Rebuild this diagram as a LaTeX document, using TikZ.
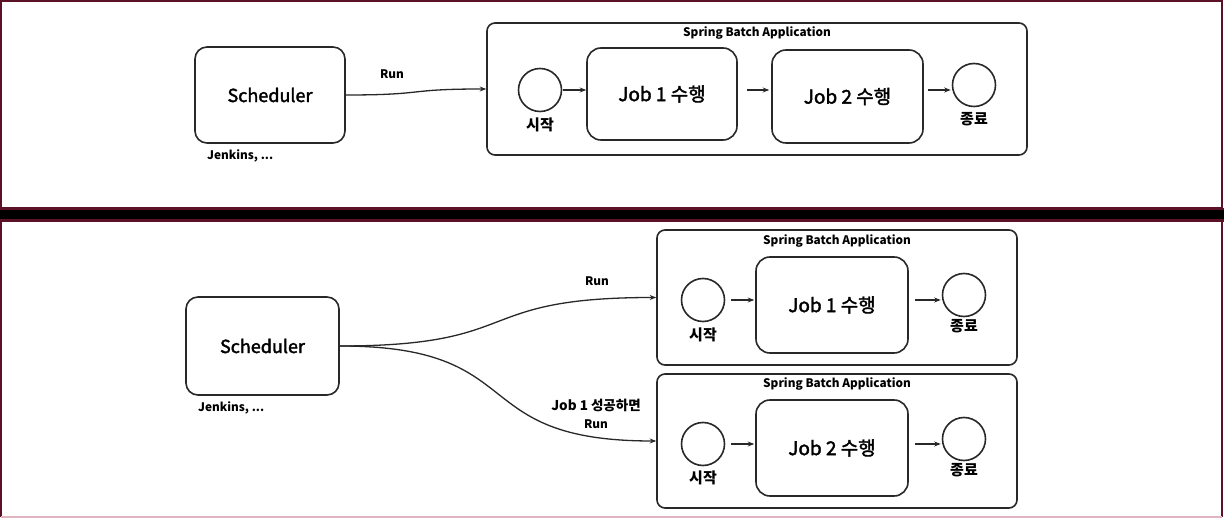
\documentclass[tikz,border=0pt]{standalone}
\usepackage{fontspec}
\setmainfont{Noto Sans CJK KR}
\newfontfamily\medfont[FakeBold=2]{Noto Sans CJK KR}
\usetikzlibrary{arrows.meta}
\definecolor{framered}{RGB}{92,18,38}
\definecolor{framepink}{RGB}{224,180,192}
\definecolor{boxgray}{RGB}{40,40,40}
\tikzset{
  rbox/.style={draw=boxgray,line width=1.6pt,rounded corners=12pt,inner sep=0pt},
  startend/.style={draw=boxgray,line width=1.6pt,circle,minimum size=43pt,inner sep=0pt},
  lbl/.style={inner sep=0pt,font=\fontsize{11.8}{18}\selectfont\bfseries},
  klbl/.style={inner sep=0pt,font=\fontsize{15}{17}\selectfont\bfseries},
  big/.style={font=\fontsize{18}{21}\selectfont\medfont},
  jobtext/.style={font=\fontsize{19}{22}\selectfont\medfont},
  flow/.style={-{Stealth[length=6.5pt,width=5pt]},line width=1.3pt,draw=boxgray},
}

\begin{document}
\begin{tikzpicture}[x=1pt,y=1pt,yscale=-1,xscale=1]
\useasboundingbox (0,0) rectangle (1224,518);

%Shape: panels
\fill[white] (0,0) rectangle (1224,518);
\draw[framered,line width=2pt] (1,1) rectangle (1222,208);
\fill[framered] (0,208) rectangle (1224,222);
\fill[black] (0,210.5) rectangle (1224,219.5);
\draw[framered,line width=2pt] (1,517) -- (1,221) -- (1222,221) -- (1222,517);
\draw[framepink,line width=1.5pt] (1,517) -- (1222,517);

%%% upper panel: one application runs both jobs
% Scheduler
\node[rbox,minimum width=150pt,minimum height=96pt,big] (sched1) at (270,95) {Scheduler};
\node[lbl,anchor=west] (jenk1) at (207,156) {Jenkins, ...};
\node[lbl] (run1) at (392,74) {Run};
% Application
\node[rbox,rounded corners=8pt,minimum width=540pt,minimum height=132pt] (sba1) at (757,89) {};
\node[lbl] (title1) at (757,33) {Spring Batch Application};
\node[startend] (start1) at (540,90) {};
\node[klbl] (startlbl1) at (540,125) {시작};
\node[rbox,rounded corners=14pt,minimum width=150pt,minimum height=92pt,jobtext] (job1) at (662,94) {Job 1 수행};
\node[rbox,rounded corners=14pt,minimum width=151pt,minimum height=93pt,jobtext] (job2) at (847.5,96.5) {Job 2 수행};
\node[startend] (end1) at (974,85) {};
\node[klbl] (endlbl1) at (974,119) {종료};
% Connectors
\draw[flow] (sched1.east) to[out=0,in=180,looseness=1.5] (sba1.west);
\draw[flow,shorten <=1pt] (start1.east) -- (start1 -| job1.west);
\draw[flow,shorten <=9pt,shorten >=2pt] (start1 -| job1.east) -- (start1 -| job2.west);
\draw[flow,shorten <=4pt,shorten >=1pt] (start1 -| job2.east) -- (start1 -| end1.west);

%%% lower panel: one application per job
% Scheduler
\node[rbox,minimum width=153pt,minimum height=98pt,big] (sched2) at (262.5,346) {Scheduler};
\node[lbl,anchor=west] (jenk2) at (198,408) {Jenkins, ...};
\node[lbl] (runA) at (597,281) {Run};
\node[inner sep=0pt,align=center,font=\fontsize{13.5}{18}\selectfont\bfseries] (condB) at (596,414)
  {Job 1 성공하면\\{\fontsize{11.8}{14}\selectfont Run}};
% Application for Job 1
\node[rbox,rounded corners=8pt,minimum width=360pt,minimum height=135pt] (sbaA) at (837,297.5) {};
\node[lbl] (titleA) at (837,241) {Spring Batch Application};
\node[startend] (startA) at (703,300) {};
\node[klbl] (startlblA) at (703,335) {시작};
\node[rbox,rounded corners=14pt,minimum width=152pt,minimum height=96pt,jobtext] (jobA) at (832,305) {Job 1 수행};
\node[startend] (endA) at (964,295) {};
\node[klbl] (endlblA) at (964,326) {종료};
% Application for Job 2
\node[rbox,rounded corners=8pt,minimum width=360pt,minimum height=134pt] (sbaB) at (837,441) {};
\node[lbl] (titleB) at (837,384) {Spring Batch Application};
\node[startend] (startB) at (703,444) {};
\node[klbl] (startlblB) at (703,478) {시작};
\node[rbox,rounded corners=14pt,minimum width=152pt,minimum height=96pt,jobtext] (jobB) at (832,448) {Job 2 수행};
\node[startend] (endB) at (964,439) {};
\node[klbl] (endlblB) at (964,470) {종료};
% Connectors
\draw[flow] (sched2.east) to[out=0,in=180,looseness=1.5] (sbaA.west);
\draw[flow] (sched2.east) to[out=0,in=180,looseness=1.5] (sbaB.west);
\draw[flow,shorten <=6pt,shorten >=1pt] (startA.east) -- (startA -| jobA.west);
\draw[flow,shorten <=6pt,shorten >=1pt] (startA -| jobA.east) -- (startA -| endA.west);
\draw[flow,shorten <=6pt,shorten >=1pt] (startB.east) -- (startB -| jobB.west);
\draw[flow,shorten <=6pt,shorten >=1pt] (startB -| jobB.east) -- (startB -| endB.west);

\end{tikzpicture}
\end{document}
